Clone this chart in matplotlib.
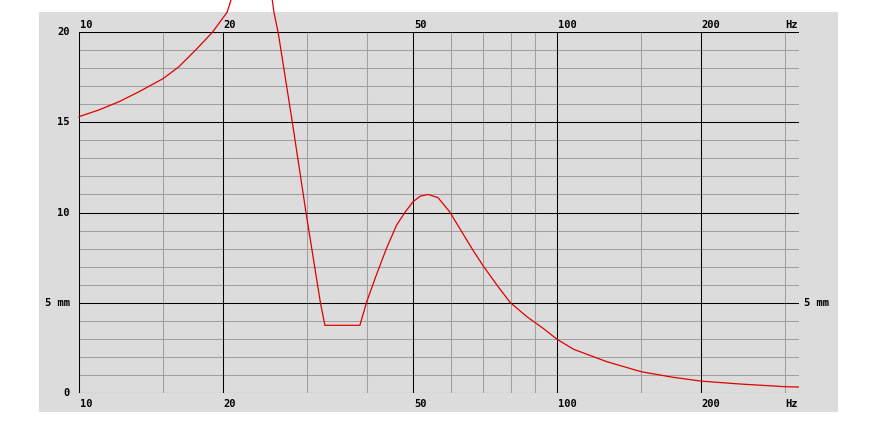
import matplotlib
matplotlib.use("Agg")
import matplotlib.pyplot as plt
from matplotlib.patches import Rectangle
import matplotlib.transforms as mtransforms

# ---- data ----
freq_hz = [10, 11.0, 12.13, 13.35, 15, 16.19, 17.54, 19.01, 20.42, 21.5, 22.5,
           24.0, 25.0, 25.58, 26.12, 27.95, 29.85, 32.0, 32.7, 38.7, 40.0,
           41.9, 44.0, 46.2, 48.1, 50, 51.8, 53.8, 56.4, 59.6, 62.6, 66.7,
           70.1, 74.9, 79.8, 86.5, 93.6, 100, 108.4, 127, 150, 175, 200, 241,
           300, 320]
excursion_mm = [15.31, 15.68, 16.14, 16.69, 17.42, 18.08, 19.0, 19.98, 21.1,
                23.0, 24.5, 24.5, 23.0, 21.1, 19.93, 15.0, 10.0, 5.0, 3.75,
                3.75, 5.06, 6.54, 8.02, 9.31, 10.01, 10.6, 10.91, 11.0, 10.82,
                10.05, 9.12, 7.92, 7.04, 5.98, 5.02, 4.23, 3.58, 2.98, 2.42,
                1.74, 1.18, 0.87, 0.66, 0.50, 0.35, 0.33]

x_major = [10, 20, 50, 100, 200]
x_minor = [15, 30, 40, 60, 70, 80, 90, 150, 300]
x_labels = ["10", "20", "50", "100", "200"]
y_major = [0, 5, 10, 15, 20]
y_labels = ["0", "5 mm", "10", "15", "20"]
x_unit = "Hz"
x_unit_pos = 300
right_label = "5 mm"
right_label_pos = 5

XMIN, XMAX = 10, 321
YMIN, YMAX = 0, 20

W, H = 886, 424
fig = plt.figure(figsize=(W / 100, H / 100), dpi=100)
fig.patch.set_facecolor("white")
# gray panel
fig.patches.append(Rectangle((39 / W, 1 - 412 / H), (838 - 39) / W, (412 - 12) / H,
                             transform=fig.transFigure, facecolor="#dcdcdc",
                             edgecolor="none", zorder=-10))

ax = fig.add_axes([79 / W, 1 - 393 / H, (799 - 79) / W, (393 - 32) / H])
ax.set_zorder(1)
ax.set_facecolor("none")
ax.set_xscale("log")
ax.set_xlim(XMIN, XMAX)
ax.set_ylim(YMIN, YMAX)
for s in ax.spines.values():
    s.set_visible(False)
ax.set_xticks([])
ax.set_yticks([])
ax.minorticks_off()

lw = 0.75
for y in range(YMIN, YMAX + 1):
    if y in y_major:
        continue
    ax.axhline(y, color="#a0a0a0", lw=lw, zorder=1)
for x in x_minor:
    ax.axvline(x, color="#a0a0a0", lw=lw, zorder=1)
for y in y_major:
    ax.axhline(y, color="black", lw=lw, zorder=2)
for x in x_major:
    ax.axvline(x, color="black", lw=lw, zorder=2)

ax.plot(freq_hz, excursion_mm, color="#e00000", lw=0.9, zorder=3,
        clip_on=False, solid_joinstyle="round")

font = dict(family="DejaVu Sans Mono", weight="bold", size=7.5, color="black")
trans_top = mtransforms.blended_transform_factory(ax.transData, ax.transAxes)
top_off = mtransforms.offset_copy(trans_top, fig=fig, x=0.5, y=1.5, units="points")
bot_off = mtransforms.offset_copy(trans_top, fig=fig, x=0.5, y=-4.5, units="points")
for x, lab in zip(x_major + [x_unit_pos], x_labels + [x_unit]):
    ax.text(x, 1, lab, transform=top_off, ha="left", va="bottom", **font)
    ax.text(x, 0, lab, transform=bot_off, ha="left", va="top", **font)

trans_left = mtransforms.blended_transform_factory(ax.transAxes, ax.transData)
left_off = mtransforms.offset_copy(trans_left, fig=fig, x=-6.5, y=0, units="points")
right_off = mtransforms.offset_copy(trans_left, fig=fig, x=3.5, y=0, units="points")
for y, lab in zip(y_major, y_labels):
    ax.text(0, y, lab, transform=left_off, ha="right", va="center", **font)
ax.text(1, right_label_pos, right_label, transform=right_off, ha="left",
        va="center", **font)

fig.savefig("out.png", dpi=100, facecolor="white")
